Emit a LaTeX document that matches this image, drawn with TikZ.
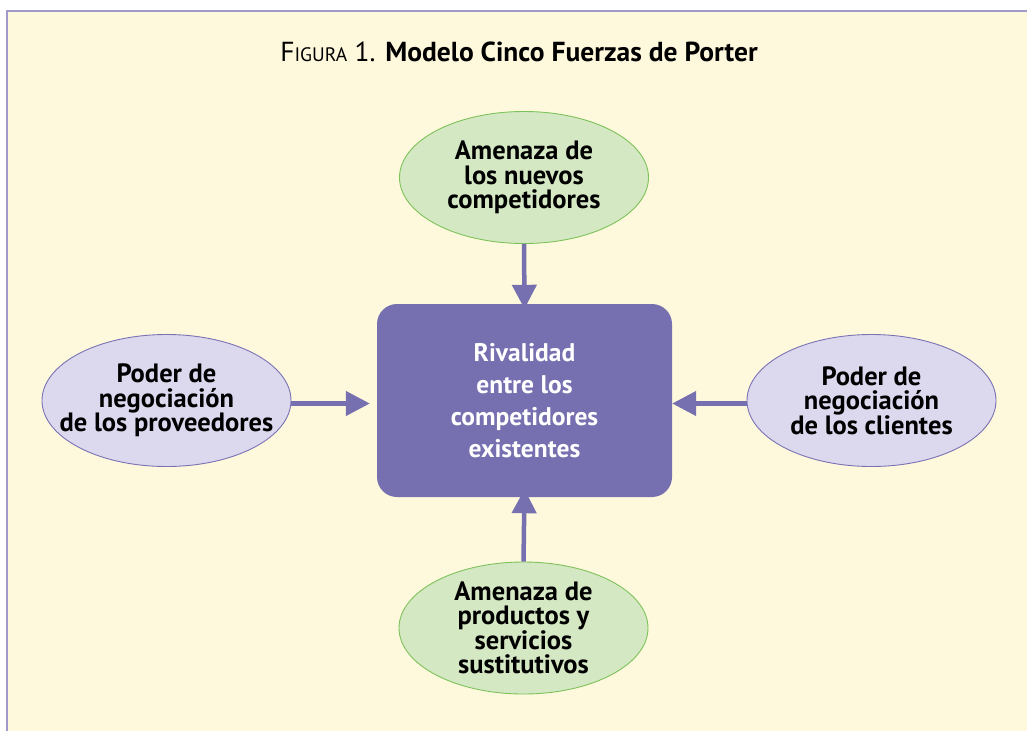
\documentclass[tikz,border=0pt]{standalone}
\usepackage{fontspec}
\setmainfont{PT Sans}
\usetikzlibrary{arrows.meta,shapes.geometric}
\definecolor{cream}{HTML}{FEF9DC}
\definecolor{frame}{HTML}{A09ACC}
\definecolor{greenfill}{HTML}{D5E8C4}
\definecolor{greenline}{HTML}{7DC25A}
\definecolor{lavfill}{HTML}{DCD9EE}
\definecolor{lavline}{HTML}{7B72B5}
\definecolor{boxcol}{HTML}{7670B0}
\tikzset{
  force/.style={ellipse, minimum width=249pt, minimum height=132pt, inner sep=0pt, line width=0.9pt},
  greenell/.style={force, fill=greenfill, draw=greenline},
  lavell/.style={force, fill=lavfill, draw=lavline},
  ftext/.style={align=center, inner sep=0pt, font=\fontsize{26.5}{24.5}\selectfont\bfseries},
  arr/.style={draw=boxcol, line width=4.5pt, -{Triangle[length=24pt,width=24pt]}},
}
\begin{document}
\begin{tikzpicture}[x=1pt,y=-1pt]
\useasboundingbox (0,0) rectangle (1027,731);
\fill[white] (0,0) rectangle (1027,731);
\fill[cream] (7,11) rectangle (1027,731);
\draw[frame, line width=2pt] (7,731) -- (7,11) -- (1027,11);
\node[font=\fontsize{27.5}{30}\selectfont, inner sep=0pt] (title) at (519,52) {F{\fontsize{19.5}{20}\selectfont IGURA} 1. \textbf{Modelo Cinco Fuerzas de Porter}};
\node[fill=boxcol, rounded corners=20pt, minimum width=295pt, minimum height=193pt, inner sep=0pt,
  text=white, align=center, font=\fontsize{25.5}{32}\selectfont\bfseries] (rival) at (524.5,400.5)
  {Rivalidad\\entre los\\competidores\\existentes};
\node[greenell] (top) at (524,177.5) {};
\node[ftext] (toptext) at (top.center) {Amenaza de\\los nuevos\\competidores};
\node[greenell] (bot) at (523.5,628) {};
\node[ftext] (bottext) at (bot.center) {Amenaza de\\productos y\\servicios\\sustitutivos};
\node[lavell] (left) at (166.5,400.5) {};
\node[ftext] (lefttext) at (left.center) {Poder de\\negociación\\de los proveedores};
\node[lavell] (right) at (871.5,400.5) {};
\node[ftext] (righttext) at (right.center) {Poder de\\negociación\\de los clientes};
\draw[arr] (top.south) -- ([yshift=-5pt]rival.north);
\draw[arr] (bot.north) -- ([yshift=8pt]rival.south);
\draw[arr] ([yshift=-3pt]left.east) -- ([yshift=-3pt,xshift=-7pt]rival.west);
\draw[arr] ([yshift=-3pt]right.west) -- ([yshift=-3pt]rival.east);
\end{tikzpicture}
\end{document}
